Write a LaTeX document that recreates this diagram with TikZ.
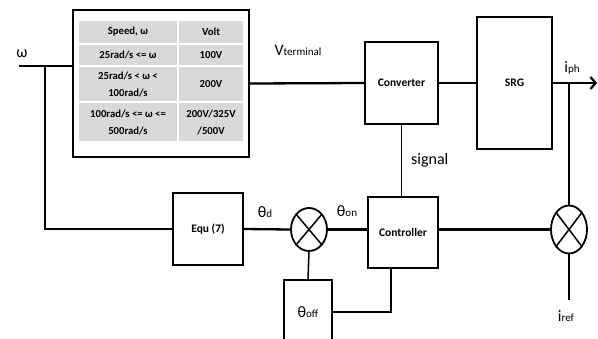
\documentclass[tikz,border=0pt]{standalone}
\usepackage{fontspec}
\setmainfont{Carlito}
\usetikzlibrary{arrows.meta,shapes.geometric}
\definecolor{cellgray}{RGB}{217,217,217}
\newcommand{\sig}[2]{#1{\fontsize{11}{11}\selectfont #2}}

\begin{document}
\begin{tikzpicture}[x=1pt, y=-1pt,
    block/.style={draw, line width=2pt, inner sep=0pt, font=\fontsize{11.5}{14}\selectfont\bfseries},
    cell/.style={fill=cellgray, inner sep=0pt, align=center, font=\fontsize{10.7}{17}\selectfont\bfseries},
    mixer/.style={draw, ellipse, line width=1.8pt, inner sep=0pt, minimum width=36pt},
    lbl/.style={inner sep=0pt, font=\fontsize{16}{16}\selectfont},
    bus/.style={line width=2.3pt},
    wire/.style={line width=1.5pt}]
    \useasboundingbox (0,0) rectangle (598,338);
    \clip (0,0) rectangle (598,338);

    % Look-up table
    \node[block, minimum width=176pt, minimum height=147pt] (lut) at (161,83.5) {};
    \foreach \y/\h/\a/\b [count=\i] in {32/22/{Speed, ω}/Volt,
            55/20/{25rad/s <= ω}/100V,
            84/34/{25rad/s < ω <\\100rad/s}/200V,
            122/38/{100rad/s <= ω <=\\500rad/s}/{200V/325V\\/500V}} {
        \node[cell, minimum width=98pt, minimum height=\h pt] (spd\i) at (128,\y) {\a};
        \node[cell, minimum width=64pt, minimum height=\h pt] (volt\i) at (211,\y) {\b};
    }

    % Blocks
    \node[block, minimum width=73pt, minimum height=82pt] (conv) at (401.5,83) {Converter};
    \node[block, minimum width=75pt, minimum height=132pt] (srg) at (514.5,83) {SRG};
    \node[block, minimum width=70pt, minimum height=72pt] (equ) at (208,229) {Equ (7)};
    \node[block, minimum width=70pt, minimum height=71pt] (ctrl) at (403,232.5) {Controller};
    \node[block, font=\fontsize{16}{16}\selectfont, minimum width=48pt, minimum height=64pt] (thoff) at (308,312) {\sig{θ}{off}};

    % Mixers
    \node[mixer, minimum height=43pt] (mix1) at (309,229.5) {};
    \node[mixer, minimum height=48pt] (mix2) at (569,229.5) {};
    \foreach \m in {mix1,mix2}
        \draw[wire] (\m.north east) -- (\m.south west) (\m.north west) -- (\m.south east);

    % Labels
    \node[lbl] (wlbl) at (22,54) {ω};
    \node[lbl] (vlbl) at (298,50) {\sig{V}{terminal}};
    \node[lbl] (iph) at (572,68) {\sig{i}{ph}};
    \node[lbl, anchor=west] (siglbl) at (411,160) {signal};
    \node[lbl] (thd) at (265,212) {\sig{θ}{d}};
    \node[lbl] (thon) at (347,211) {\sig{θ}{on}};
    \node[lbl] (iref) at (566,316) {\sig{i}{ref}};

    % Connectors
    \coordinate (win) at (19,66);
    \coordinate (br) at (45,66);
    \coordinate (out) at (597,83);
    \coordinate (tap) at (mix2.north |- srg.east);
    \coordinate (refin) at (569,300);

    \draw[bus] (win) -- (win -| lut.west);
    \draw[bus] (br) |- (equ.west);
    \draw[bus] (lut.east) -- (conv.west);
    \draw[wire] (conv.east) -- (srg.west);
    \draw[bus, -{Straight Barb[length=5pt,width=12pt]}] (srg.east) -- (out);
    \draw[wire] (tap) -- (mix2.north);
    \draw[wire] (conv.south) -- (conv.south |- ctrl.north);
    \draw[bus] (equ.east) -- (mix1.west);
    \draw[bus] (mix1.east) -- (mix1.east -| ctrl.west);
    \draw[wire] (mix1.south) -- (thoff.north);
    \draw[bus] (thoff.east) -| ([xshift=-12pt]ctrl.south);
    \draw[bus] (ctrl.east |- mix2.west) -- (mix2.west);
    \draw[bus] (mix2.south) -- (refin);
\end{tikzpicture}
\end{document}
